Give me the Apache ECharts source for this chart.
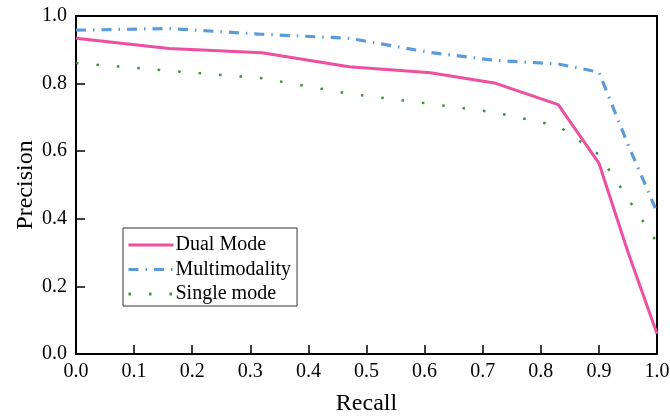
<!DOCTYPE html>
<html>
<head>
<meta charset="utf-8">
<script src="https://cdn.jsdelivr.net/npm/echarts@6/dist/echarts.min.js"></script>
<style>html,body{margin:0;padding:0;background:#fff}#c{width:670px;height:416px}</style>
</head>
<body>
<div id="c"></div>
<script>
const recall = [0, 0.16, 0.32, 0.47, 0.61, 0.72, 0.83, 0.90, 0.95, 1.0];
const dualMode = [0.934, 0.904, 0.891, 0.850, 0.832, 0.802, 0.738, 0.565, 0.302, 0.060];
const multimodality = [0.958, 0.963, 0.946, 0.934, 0.892, 0.869, 0.858, 0.834, 0.62, 0.42];
const singleMode = [0.861, 0.838, 0.816, 0.770, 0.740, 0.715, 0.675, 0.590, 0.460, 0.330];
const seriesNames = ['Dual Mode', 'Multimodality', 'Single mode'];
const xTicks = ['0.0','0.1','0.2','0.3','0.4','0.5','0.6','0.7','0.8','0.9','1.0'];

const pair = (ys) => recall.map((x, i) => [x, ys[i]]);
const font = 'Liberation Serif';
const chart = echarts.init(document.getElementById('c'), null, {renderer: 'canvas'});
chart.setOption({
  animation: false,
  textStyle: {fontFamily: font, color: '#000'},
  grid: {left: 76, right: 13, top: 16, bottom: 62, outerBoundsMode: 'none', containLabel: false,
         show: true, borderColor: '#000', borderWidth: 2, backgroundColor: 'transparent'},
  xAxis: {
    type: 'value', min: 0, max: 1, interval: 0.1,
    name: 'Recall', nameLocation: 'middle', nameGap: 38, nameMoveOverlap: false,
    nameTextStyle: {fontFamily: font, fontSize: 24, color: '#000'},
    axisLine: {lineStyle: {color: '#000', width: 2}},
    axisTick: {inside: true, length: 9, lineStyle: {color: '#000', width: 1.5}},
    axisLabel: {fontFamily: font, fontSize: 20, color: '#000', margin: 8, formatter: (v) => xTicks[Math.round(v * 10)]},
    splitLine: {show: false}
  },
  yAxis: {
    type: 'value', min: 0, max: 1, interval: 0.2,
    name: 'Precision', nameLocation: 'middle', nameGap: 38.5, nameMoveOverlap: false,
    nameTextStyle: {fontFamily: font, fontSize: 24, color: '#000'},
    axisLine: {show: true, lineStyle: {color: '#000', width: 2}},
    axisTick: {show: true, inside: true, length: 9, lineStyle: {color: '#000', width: 1.5}},
    axisLabel: {fontFamily: font, fontSize: 20, color: '#000', margin: 9, formatter: (v) => v.toFixed(1)},
    splitLine: {show: false}
  },
  legend: {
    orient: 'vertical', left: 123, top: 228,
    borderColor: '#333', borderWidth: 1, padding: [7, 6, 2, 4],
    itemWidth: 45, itemHeight: 14, itemGap: 4.5,
    itemStyle: {opacity: 0},
    lineStyle: {width: 3},
    textStyle: {fontFamily: font, fontSize: 20, color: '#000', padding: [0, 0, 0, -3]},
    data: seriesNames
  },
  series: [
    {name: seriesNames[0], type: 'line', data: pair(dualMode), symbol: 'none', z: 3,
     lineStyle: {color: '#ee4fa0', width: 3}, itemStyle: {color: '#ee4fa0'}},
    {name: seriesNames[1], type: 'line', data: pair(multimodality), symbol: 'none', z: 2,
     lineStyle: {color: '#5b9bd9', width: 3.2, type: [10, 7, 1.5, 7], cap: 'butt'}, itemStyle: {color: '#5b9bd9'}},
    {name: seriesNames[2], type: 'line', data: pair(singleMode), symbol: 'none', z: 1,
     lineStyle: {color: '#3f8f3f', width: 2.5, type: [2.5, 18], cap: 'butt'}, itemStyle: {color: '#3f8f3f'}}
  ]
});
</script>
</body>
</html>
